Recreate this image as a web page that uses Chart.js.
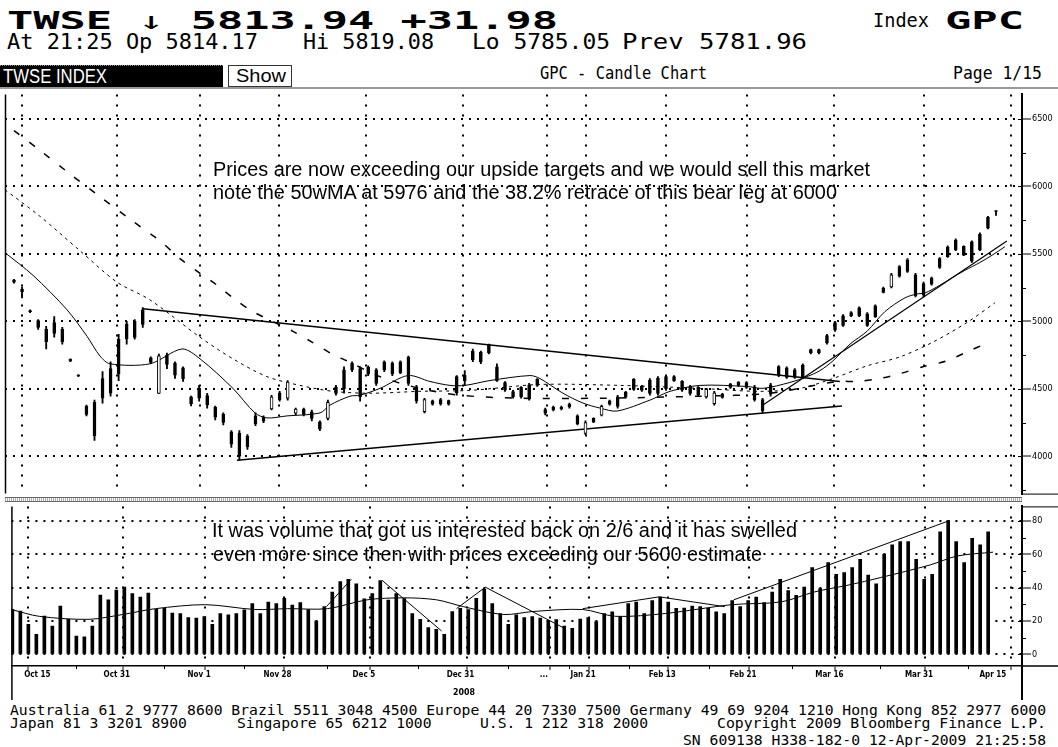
<!DOCTYPE html>
<html>
<head>
<meta charset="utf-8">
<title>TWSE GPC Candle Chart</title>
<script src="https://cdn.jsdelivr.net/npm/chart.js@4.4.1/dist/chart.umd.min.js"></script>
<style>
  html, body { margin:0; padding:0; background:#fff; }
  body { position:relative; width:1058px; height:747px; overflow:hidden; }
  .t { position:absolute; white-space:pre; line-height:1; color:#000; transform-origin:0 0; }
  .mono { font-family:"DejaVu Sans Mono","Liberation Mono",monospace; }
  .big { font-family:"DejaVu Sans Mono","Liberation Mono",monospace; font-weight:bold; font-size:24px; }
  .sans { font-family:"Liberation Sans",Arial,sans-serif; }
  .ann { font-family:"Liberation Sans",Arial,sans-serif; font-size:19.5px; }
  canvas { position:absolute; left:0; }
  #priceCanvas { top:88px; }
  #volCanvas { top:500px; }
  .box { position:absolute; box-sizing:border-box; }
</style>
</head>
<body>
<!-- header -->
<div class="t big" style="left:7px;top:9px" data-w="551">TWSE <span style="font-weight:normal">↓</span> 5813.94 +31.98</div>
<div class="t mono" style="left:873px;top:11px;font-size:19px" data-w="56">Index</div>
<div class="t big" style="left:945px;top:9px" data-w="79">GPC</div>

<div class="t mono" style="left:7px;top:32px;font-size:21px" data-w="251">At 21:25 Op 5814.17</div>
<div class="t mono" style="left:303px;top:32px;font-size:21px" data-w="131">Hi 5819.08</div>
<div class="t mono" style="left:472px;top:32px;font-size:21px" data-w="138">Lo 5785.05</div>
<div class="t mono" style="left:622px;top:32px;font-size:21px" data-w="185">Prev 5781.96</div>

<div class="box" style="left:0;top:65px;width:223px;height:22px;background:#000;border-top:1px dotted #888;"></div>
<div class="t sans" style="left:3px;top:65.5px;font-size:20px;color:#fff" data-w="104">TWSE INDEX</div>
<div class="box" style="left:228px;top:65px;width:64px;height:22px;border:1px solid #333;background:#fff;"></div>
<div class="t sans" style="left:236px;top:66px;font-size:19px" data-w="50">Show</div>
<div class="t mono" style="left:540px;top:65px;font-size:17px" data-w="167">GPC - Candle Chart</div>
<div class="t mono" style="left:953px;top:65px;font-size:17px" data-w="89">Page 1/15</div>
<div class="box" style="left:0;top:87px;width:1058px;height:2px;background:#9a9a9a;"></div>

<canvas id="priceCanvas" width="1058" height="412" style="width:1058px;height:412px"></canvas>
<canvas id="volCanvas" width="1058" height="200" style="width:1058px;height:200px"></canvas>

<!-- panel separator -->
<div class="box" style="left:5px;top:497px;width:1017px;height:5px;border-top:1px solid #666;border-bottom:1px solid #666;background:repeating-linear-gradient(90deg,#aaa 0 1px,#fff 1px 2px);"></div>

<!-- annotations -->
<div class="t ann" style="left:213px;top:159.5px" data-w="657">Prices are now exceeding our upside targets and we would sell this market</div>
<div class="t ann" style="left:213px;top:182.5px" data-w="624">note the 50wMA at 5976 and the 38.2% retrace of this bear leg at 6000</div>
<div class="t ann" style="left:212px;top:520.5px" data-w="585">It was volume that got us interested back on 2/6 and it has swelled</div>
<div class="t ann" style="left:213px;top:544.5px" data-w="549">even more since then with prices exceeding our 5600 estimate</div>

<div class="t" style="left:453px;top:688px;font:bold 8px 'DejaVu Sans Condensed','Liberation Sans Narrow','Liberation Sans',sans-serif" data-w="22">2008</div>

<!-- footer -->
<div class="t mono" style="left:10px;top:703.3px;font-size:14.7px" data-w="1036">Australia 61 2 9777 8600 Brazil 5511 3048 4500 Europe 44 20 7330 7500 Germany 49 69 9204 1210 Hong Kong 852 2977 6000</div>
<div class="t mono" style="left:10px;top:716.3px;font-size:14.7px">Japan 81 3 3201 8900</div>
<div class="t mono" style="left:237px;top:716.3px;font-size:14.7px">Singapore 65 6212 1000</div>
<div class="t mono" style="left:480px;top:716.3px;font-size:14.7px">U.S. 1 212 318 2000</div>
<div class="t mono" style="left:717px;top:716.3px;font-size:14.7px" data-w="329">Copyright 2009 Bloomberg Finance L.P.</div>
<div class="t mono" style="left:683px;top:733.3px;font-size:14.7px" data-w="363">SN 609138 H338-182-0 12-Apr-2009 21:25:58</div>

<script>
// ---------------- DATA ----------------
const dayIndex = Array.from({length: 123}, (_, i) => i);

const priceOpen = [
 5305,5239,5080,5005,4940,4990,4940,4718,4600,4370,
 4400,4576,4649,4867,4980,5000,5086,4730,4466,4750,
 4690,4655,4440,4503,4450,4365,4310,4180,4170,4150,
 4300,4290,4350,4470,4430,4320,4350,4330,4255,4280,
 4510,4640,4690,4650,4660,4640,4700,4690,4700,4735,
 4515,4330,4410,4420,4412,4590,4600,4780,4770,4825,
 4663,4545,4480,4510,4530,4570,4345,4365,4362,4385,
 4300,4170,4280,4305,4410,4440,4475,4570,4520,4565,
 4580,4590,4590,4555,4515,4510,4440,4390,4460,4535,
 4550,4545,4515,4420,4530,4665,4655,4640,4675,4790,
 4790,4895,4990,5040,5065,5100,5055,5115,5245,5255,
 5405,5455,5345,5280,5320,5465,5550,5600,5555,5590,
 5645,5770,5814.17];
const priceHigh = [
 5312,5254,5086,5013,4962,5035,4955,4722,4605,4379,
 4416,4627,4700,4904,4999,5013,5101,4736,4758,4765,
 4700,4663,4445,4525,4467,4372,4321,4190,4190,4160,
 4321,4299,4452,4481,4561,4357,4357,4343,4262,4416,
 4525,4663,4700,4663,4670,4649,4707,4700,4707,4743,
 4525,4430,4416,4430,4416,4598,4634,4795,4780,4831,
 4685,4554,4488,4517,4540,4576,4357,4372,4372,4394,
 4306,4262,4284,4379,4416,4452,4481,4576,4525,4576,
 4590,4598,4598,4561,4525,4517,4503,4481,4466,4540,
 4554,4554,4525,4430,4540,4671,4663,4649,4685,4795,
 4795,4904,4999,5050,5072,5108,5064,5122,5254,5356,
 5414,5465,5356,5290,5327,5473,5560,5611,5560,5596,
 5655,5778,5819.08];
const priceLow = [
 5283,5174,5065,4940,4795,4882,4831,4700,4590,4299,
 4117,4394,4445,4561,4831,4867,4955,4686,4466,4649,
 4576,4554,4372,4408,4357,4270,4233,4066,3971,4051,
 4226,4248,4343,4408,4416,4306,4299,4262,4190,4270,
 4452,4467,4627,4408,4598,4525,4627,4598,4612,4525,
 4394,4321,4379,4379,4379,4452,4525,4700,4686,4758,
 4554,4481,4430,4430,4416,4517,4306,4335,4343,4357,
 4233,4160,4248,4299,4379,4357,4430,4488,4481,4452,
 4452,4488,4554,4481,4452,4445,4430,4379,4430,4503,
 4517,4503,4408,4321,4445,4590,4576,4576,4576,4758,
 4758,4831,4926,4962,5035,5035,4962,5028,5210,5247,
 5327,5363,5181,5181,5268,5392,5473,5523,5487,5436,
 5523,5684,5785.05];
const priceClose = [
 5290,5217,5072,4955,4850,4910,4850,4705,4595,4310,
 4150,4430,4467,4612,4870,4880,4977,4695,4744,4680,
 4600,4575,4390,4430,4380,4290,4250,4090,4000,4070,
 4240,4260,4440,4420,4550,4350,4310,4280,4200,4400,
 4465,4500,4640,4440,4610,4540,4640,4610,4620,4540,
 4410,4420,4385,4390,4385,4470,4560,4715,4700,4765,
 4560,4490,4440,4440,4425,4525,4320,4345,4350,4365,
 4240,4250,4255,4370,4385,4370,4440,4495,4490,4465,
 4465,4500,4560,4490,4465,4455,4495,4470,4435,4510,
 4525,4510,4420,4335,4460,4600,4585,4585,4590,4765,
 4765,4840,4935,4970,5040,5040,4970,5035,5215,5345,
 5335,5370,5190,5195,5275,5400,5480,5530,5490,5445,
 5530,5690,5813.94];

// volume: first value belongs to day -1 (the partly hidden bar at the left edge)
const volumeDay = Array.from({length: 124}, (_, k) => k - 1);
const volume = [
 27,26,18,12,23,17,29,21,11,10.5,
 17,35.6,32.7,38.5,40.3,36.4,34.4,36.8,27,27.6,
 24.7,24.5,22,21.8,22.6,18,24.5,23.7,24.5,26.7,
 30.4,24.5,31.3,30.4,33.6,29.6,31,26.8,20,28.6,
 37.4,43.6,45,42.3,33.3,36.4,44.3,32.5,36.4,33.5,
 24.5,21,16,15,12,25.7,27.6,26.8,33.6,39,
 30.4,24.5,18,23.7,22,22.6,21.8,20.4,20.8,17,
 15.6,21.2,22,19.6,24.5,25.5,22.6,30.4,31.3,24.5,
 32.3,34.4,31.3,27.6,27.8,29,28.6,27.6,25.5,24.5,
 32.3,28.6,32.3,34.4,31,37.4,45,38.3,35.4,40.3,
 52,39.4,55,48,49,52,57,47.6,42.3,60,
 65.7,67.7,67.7,57,45,48,73.5,80.3,67.7,55,
 69.6,65.7,73.5,null];

// moving averages (day position, value)
const maShortX = [-1.12,2.36,6.58,9.07,10.68,11.93,16.89,20.87,23.11,27.2,29.94,31.43,33.92,38.02,39.26,41.74,42.98,45.47,48.95,51.68,54.17,56.03,59.13,64.1,65.34,68.2,70.69,72.8,74.91,79.01,81.5,85.22,91.06,93.05,96.4,98.51,100.12,101.74,103.86,105.97,108.2,110.69,112.18,113.17,115.04,116.65,118.14,120.0,121.62,123.11];
const maShortY = [5509,5341,5086,4889,4743,4685,4685,4795,4722,4503,4321,4284,4299,4321,4379,4445,4452,4503,4598,4554,4525,4525,4561,4598,4576,4467,4394,4357,4335,4416,4481,4525,4517,4503,4547,4590,4634,4707,4831,4926,5072,5174,5203,5210,5268,5327,5378,5436,5494,5553];
const maMidX = [-1.12,3.23,8.2,12.8,16.89,23.11,27.2,31.43,35.53,39.63,44.22,50.43,56.65,65.34,75.28,85.22,92.67,97.64,101.74,105.97,110.06,114.16,118.39,121.86];
const maMidY = [5975,5778,5523,5290,5159,4882,4722,4590,4525,4481,4467,4481,4488,4532,4525,4503,4481,4503,4576,4670,4736,4846,4991,5137];
const maLongX = [0,3.23,6.96,10.68,14.41,18.14,20.62,23.11,25.22,27.2,29.69,34.66,37.02,39.5,41.37,45.47,50.43,55.4,62.86,72.8,85.22,93.91,102.24,104.72,107.58,110.06,112.92,115.9,118.39,120.87];
const maLongY = [6413,6267,6092,5924,5757,5596,5465,5356,5268,5174,5072,4926,4846,4758,4707,4590,4503,4452,4430,4430,4445,4467,4554,4554,4576,4612,4663,4707,4773,4838];

// drawn trendlines (end points)
const trendUpperX = [16.02, 102.6],  trendUpperY = [5093, 4554];
const trendLowerX = [27.7, 102.86],  trendLowerY = [3971, 4372];
const trendRiseX  = [93.05, 123.35], trendRiseY  = [4379, 5596];

const volMaX = [-1.12,2.36,8.57,12.8,16.89,23.11,29.32,33.42,38.39,43.35,47.95,52.05,55.4,60.37,64.1,70.31,74.41,80.62,88.94,95.16,99.25,103.48,107.58,113.79,117.14,121.61];
const volMaY = [26.9,22.8,21,23.9,27.4,29.8,26.9,27.4,27.4,32.7,33.9,32.7,28.6,23.9,25.7,26.9,22.8,24.5,29.8,31.5,37.4,41.5,46.1,53.7,59,61.3];
const volTrendAX = [38.26, 41.37], volTrendAY = [28.6, 45];
const volTrendBX = [45.22, 52.67], volTrendBY = [44.4, 14];
const volTrendCX = [54.53, 58.14, 68.2], volTrendCY = [27.4, 40.3, 15.2];
const volTrendDX = [70.31, 79.88, 88.07], volTrendDY = [27.4, 34.5, 28.6];
const volTrendEX = [89.19, 116.02], volTrendEY = [32.7, 80];

// axes
const gridX = [0.99, 12.8, 23.1, 32.9, 43.7, 55.78, 66.2, 71.1, 81.0, 91.1, 101.9, 113.1, 123.9];
const xTickLabels = ['            Oct 15','Oct 31','Nov 1','Nov 28','Dec 5','Dec 31','...','Jan 21','Feb 13','Feb 21','Mar 16','Mar 31','Apr 15          '];
const priceTicks = [4000, 4500, 5000, 5500, 6000, 6500];
const priceMinorTicks = [3750, 4250, 4750, 5250, 5750, 6250];
const volTicks = [0, 20, 40, 60, 80];
const volMinorTicks = [10, 30, 50, 70];

// ---------------- CHARTS ----------------
const AX_FONT = '"DejaVu Sans Condensed","Liberation Sans Narrow","Liberation Sans",sans-serif';
const X_MIN = -1.118, X_MAX = 125.23;
const toXY = (xs, ys) => xs.map((x, k) => ({x, y: ys[k]}));

function xScaleOpts(showLabels) {
  return {
    type: 'linear', min: X_MIN, max: X_MAX, offset: false,
    afterBuildTicks: s => { s.ticks = gridX.map(v => ({value: v})); },
    ticks: showLabels ? {
      display: true, autoSkip: false, maxRotation: 0, minRotation: 0, color: '#000', padding: 0, labelOffset: -6,
      font: {family: AX_FONT, size: 8, weight: 'bold'},
      callback: (v, i) => xTickLabels[i]
    } : {display: false},
    grid: {offset: false, color: '#000', lineWidth: 2, drawTicks: showLabels, tickLength: 4,
           tickColor: '#000', tickWidth: 1, tickBorderDash: []},
    border: {display: showLabels, color: '#000', width: 1.5, dash: [2, 8]},
    afterFit: s => { s.height = showLabels ? 34 : 0; }
  };
}
function yScaleOpts(min, max, ticks) {
  return {
    type: 'linear', position: 'right', min, max,
    afterBuildTicks: s => { s.ticks = ticks.map(v => ({value: v})); },
    ticks: {color: '#000', padding: 1, font: {family: AX_FONT, size: 9}, callback: v => String(v)},
    grid: {color: '#000', lineWidth: 2, drawTicks: true, tickLength: 9, tickColor: '#000', tickWidth: 1, tickBorderDash: []},
    border: {display: true, color: '#000', width: 2, dash: [2, 6]},
    afterFit: s => { s.width = 36; }
  };
}
const baseOpts = {
  responsive: false, maintainAspectRatio: false, animation: false, events: [],
  plugins: {legend: {display: false}, tooltip: {enabled: false}}
};

const frameA = {
  id: 'frameA',
  afterDraw(chart) {
    const {ctx, chartArea: a, scales: {y}} = chart;
    ctx.save();
    ctx.strokeStyle = '#000';
    ctx.lineWidth = 1.5;
    ctx.beginPath(); ctx.moveTo(a.left + 0.5, a.top); ctx.lineTo(a.left + 0.5, a.bottom); ctx.stroke();
    ctx.lineWidth = 1;
    ctx.beginPath(); ctx.moveTo(a.right, a.bottom + 0.5); ctx.lineTo(chart.width, a.bottom + 0.5); ctx.stroke();
    priceMinorTicks.forEach(v => { const p = Math.round(y.getPixelForValue(v)) + 0.5;
      ctx.beginPath(); ctx.moveTo(a.right, p); ctx.lineTo(a.right + 4, p); ctx.stroke(); });
    priceTicks.forEach(v => { const p = Math.round(y.getPixelForValue(v)) + 0.5;
      ctx.beginPath(); ctx.moveTo(a.right - 4, p); ctx.lineTo(a.right, p); ctx.stroke(); });
    ctx.restore();
  }
};
const frameB = {
  id: 'frameB',
  afterDraw(chart) {
    const {ctx, chartArea: a, scales: {x, y}} = chart;
    ctx.save();
    ctx.strokeStyle = '#000';
    ctx.lineWidth = 1.5;
    ctx.beginPath(); ctx.moveTo(a.left + 0.5, a.top); ctx.lineTo(a.left + 0.5, chart.height); ctx.stroke();
    ctx.lineWidth = 2;
    ctx.beginPath(); ctx.moveTo(a.right, a.bottom); ctx.lineTo(a.right, chart.height); ctx.stroke();
    ctx.lineWidth = 1.5;
    ctx.beginPath(); ctx.moveTo(a.right, a.bottom); ctx.lineTo(chart.width, a.bottom); ctx.stroke();
    ctx.lineWidth = 1;
    ctx.beginPath(); ctx.moveTo(a.right, a.top + 0.5); ctx.lineTo(chart.width, a.top + 0.5); ctx.stroke();
    for (let k = 0; k < gridX.length - 1; k++) {
      const p = Math.round(x.getPixelForValue((gridX[k] + gridX[k + 1]) / 2)) + 0.5;
      ctx.beginPath(); ctx.moveTo(p, a.bottom); ctx.lineTo(p, a.bottom + 3); ctx.stroke();
    }
    volMinorTicks.forEach(v => { const p = Math.round(y.getPixelForValue(v)) + 0.5;
      ctx.beginPath(); ctx.moveTo(a.right, p); ctx.lineTo(a.right + 4, p); ctx.stroke(); });
    volTicks.forEach(v => { const p = Math.round(y.getPixelForValue(v)) + 0.5;
      ctx.beginPath(); ctx.moveTo(a.right - 4, p); ctx.lineTo(a.right, p); ctx.stroke(); });
    ctx.restore();
  }
};

const lineDs = (xs, ys, extra) => Object.assign({
  type: 'line', data: toXY(xs, ys), borderColor: '#000', borderWidth: 1,
  pointRadius: 0, tension: 0.3, order: 2, fill: false
}, extra || {});

new Chart(document.getElementById('priceCanvas'), {
  type: 'bar',
  data: {datasets: [
    {type: 'bar', label: 'body', order: 0, grouped: false,
     data: dayIndex.map(i => ({x: i, y: [priceOpen[i], priceClose[i]]})),
     backgroundColor: dayIndex.map(i => priceClose[i] > priceOpen[i] ? '#fff' : '#000'),
     borderColor: '#000', borderWidth: 1, borderSkipped: false, barThickness: 3, minBarLength: 1},
    {type: 'bar', label: 'wick', order: 1, grouped: false,
     data: dayIndex.map(i => ({x: i, y: [priceLow[i], priceHigh[i]]})),
     backgroundColor: '#000', borderWidth: 0, barThickness: 1.2},
    lineDs(maShortX, maShortY, {label: 'MA short'}),
    lineDs(maMidX, maMidY, {label: 'MA mid', borderDash: [3, 4]}),
    lineDs(maLongX, maLongY, {label: 'MA long', borderDash: [7, 12], borderWidth: 1.5}),
    lineDs(trendUpperX, trendUpperY, {label: 'trend upper', tension: 0, borderWidth: 1.5}),
    lineDs(trendLowerX, trendLowerY, {label: 'trend lower', tension: 0, borderWidth: 1.5}),
    lineDs(trendRiseX, trendRiseY, {label: 'trend rise', tension: 0, borderWidth: 1.2})
  ]},
  options: Object.assign({}, baseOpts, {
    layout: {padding: {left: 5, top: 3, right: 0, bottom: 3}},
    scales: {x: xScaleOpts(false), y: yScaleOpts(3723, 6682, priceTicks)}
  }),
  plugins: [frameA]
});

new Chart(document.getElementById('volCanvas'), {
  type: 'bar',
  data: {datasets: [
    {type: 'bar', label: 'volume', order: 1, grouped: false,
     data: volumeDay.map((d, k) => ({x: d, y: volume[k]})),
     backgroundColor: '#000', borderWidth: 0, barThickness: 3},
    lineDs(volMaX, volMaY, {label: 'volume MA', order: 0}),
    lineDs(volTrendAX, volTrendAY, {tension: 0, order: 0}),
    lineDs(volTrendBX, volTrendBY, {tension: 0, order: 0}),
    lineDs(volTrendCX, volTrendCY, {tension: 0, order: 0}),
    lineDs(volTrendDX, volTrendDY, {tension: 0, order: 0}),
    lineDs(volTrendEX, volTrendEY, {tension: 0, order: 0})
  ]},
  options: Object.assign({}, baseOpts, {
    layout: {padding: {left: 5, top: 2, right: 0, bottom: 0}},
    scales: {x: xScaleOpts(true), y: yScaleOpts(-7, 88.76, volTicks)}
  }),
  plugins: [frameB]
});

// ---------------- TEXT FITTING ----------------
function fitText() {
  document.querySelectorAll('[data-w]').forEach(el => {
    el.style.transform = 'none';
    const w = el.getBoundingClientRect().width;
    const target = parseFloat(el.dataset.w);
    if (w > 0) el.style.transform = 'scaleX(' + (target / w) + ')';
  });
}
fitText();
if (document.fonts && document.fonts.ready) document.fonts.ready.then(fitText);
</script>
</body>
</html>
